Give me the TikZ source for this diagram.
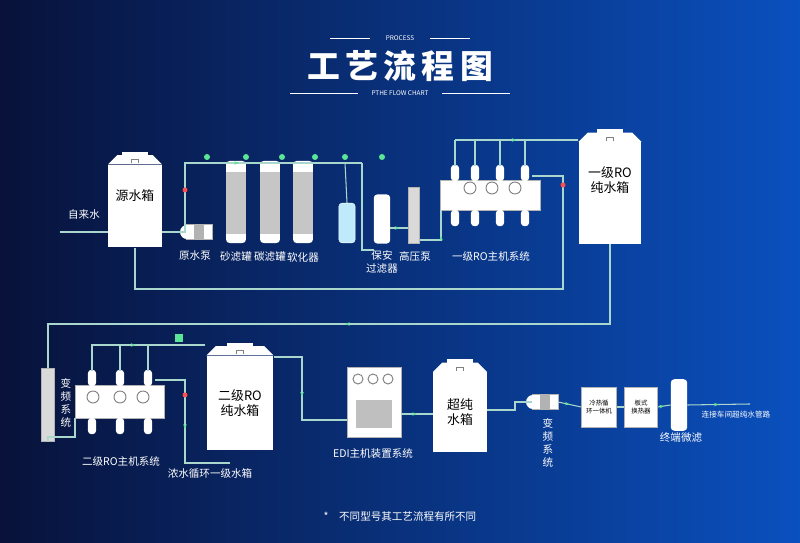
\documentclass[tikz,border=0pt]{standalone}
\usepackage{fontspec}
\setmainfont{Noto Sans CJK SC}
\usetikzlibrary{arrows.meta,decorations.markings}
\definecolor{pipe}{RGB}{170,215,205}
\definecolor{flow}{RGB}{90,230,150}
\definecolor{navy}{RGB}{8,18,58}
\definecolor{bright}{RGB}{10,80,190}
\newcommand\tankroof[1]{%
  \fill[white] (#1.north west) -- ([xshift=8pt,yshift=8pt]#1.north west)
    -- ([xshift=-8pt,yshift=8pt]#1.north east) -- (#1.north east) -- cycle;
  \fill[white] ([xshift=-11pt,yshift=7pt]#1.north) rectangle ([xshift=11pt,yshift=11pt]#1.north);
  \draw[gray,thick] ([xshift=-3pt,yshift=1pt]#1.north) -- ([xshift=-3pt,yshift=4pt]#1.north)
    -- ([xshift=3pt,yshift=4pt]#1.north) -- ([xshift=3pt,yshift=1pt]#1.north);}
\newcommand\pumpbody[1]{%
  \fill[white] ([xshift=1pt]#1.west) circle (6pt);
  \fill[gray!60] ([xshift=-4pt]#1.north) rectangle ([xshift=4pt]#1.south);}
\begin{document}
\begin{tikzpicture}[x=0.03cm,y=-0.03cm,>=Stealth,
  tank/.style={fill=white,inner sep=0pt,font=\fontsize{11}{13}\selectfont,align=center},
  box/.style={fill=white,draw=gray!60,inner sep=0pt},
  vessel/.style={fill=white,rounded corners=3pt,inner sep=0pt},
  lbl/.style={white,font=\fontsize{9}{11}\selectfont,align=center},
  tiny/.style={font=\fontsize{5.5}{7}\selectfont,align=center,inner sep=0pt},
  pipeline/.style={pipe,line width=0.9pt,postaction={decorate},
    decoration={markings,mark=at position 0.5 with {\arrow[flow]{Stealth[length=4pt]}}}},
  plain/.style={pipe,line width=0.9pt}]
% background
\shade[left color=navy,right color=bright] (0,0) rectangle (800,543);
\useasboundingbox (0,0) rectangle (800,543);
% title
\node[white,font=\itshape\fontsize{5.5}{6}\selectfont] (proc) at (400,38) {PROCESS};
\node[white,font=\bfseries\fontsize{28}{30}\selectfont] (title) at (400,66) {工\,艺\,流\,程\,图};
\node[white,font=\itshape\fontsize{5.5}{6}\selectfont] (sub) at (400,93) {PTHE FLOW CHART};
\draw[white] (330,38) -- (370,38) (430,38) -- (470,38) (290,93) -- (358,93) (442,93) -- (510,93);
%%% FIRST ROW
\node[tank,minimum width=54pt*0.85,minimum height=83pt*0.85] (src) at (135,206) {源水箱\\[6pt]};
\tankroof{src}
\node[lbl] (tap) at (84,214) {自来水};
\node[box,minimum width=22pt,minimum height=13pt] (rawp) at (199,232) {};
\pumpbody{rawp}
\node[lbl] (rawpl) at (195,256) {原水泵};
\foreach \x/\n/\t in {236/sand/砂滤罐,270/carb/碳滤罐,303/soft/软化器}{
  \node[vessel,minimum width=17pt,minimum height=70pt] (\n) at (\x,202) {};
  \fill[gray!45] ([yshift=-10pt]\n.north west) rectangle ([yshift=8pt]\n.south east);
  \node[lbl] (\n l) at (\x,257) {\t};}
\node[vessel,fill=cyan!25,draw=white,minimum width=14pt,minimum height=34pt] (dose) at (347,223) {};
\node[vessel,minimum width=14pt,minimum height=42pt] (sec) at (382,219) {};
\node[lbl] (secl) at (382,262) {保安\\过滤器};
\node[box,fill=gray!30,minimum width=9pt,minimum height=48pt] (hpp) at (414,215) {};
\node[lbl] (hppl) at (415,256) {高压泵};
\node[box,minimum width=85pt,minimum height=26pt] (ro1) at (490,195) {};
\foreach \x in {455,475,500,525}{
  \node[vessel,minimum width=7pt,minimum height=14pt] at (\x,173) {};
  \node[vessel,minimum width=7pt,minimum height=14pt] at (\x,218) {};}
\foreach \x in {470,492,515}{\draw[gray,thick] (\x,188) circle (6);}
\node[lbl] (ro1l) at (491,256) {一级RO主机系统};
\node[tank,minimum width=63pt*0.85,minimum height=102pt*0.85] (tk1) at (610,193) {一级RO\\纯水箱\\[10pt]};
\tankroof{tk1}
% first-row pipes
\draw[plain] (60,232) -- (src.west |- 0,232);
\draw[plain] (src.east |- 0,232) -- (rawp.west);
\draw[pipeline] (185,232) -- (185,163) -- (362,163);
\draw[plain] (362,163) -- (362,250) -- (sec.west |- 0,250) ;
\draw[plain] (345,163) -- (dose.north);
\draw[pipeline] (sec.east |- 0,228) -- (hpp.west |- 0,228);
\draw[pipeline] (hpp.east |- 0,240) -- (441,240) -- (441,210);
\draw[pipeline] (455,140) -- (578,140);
\draw[plain] (455,140) -- (455,166) (475,140) -- (475,166) (500,140) -- (500,166) (525,140) -- (525,166);
\draw[plain] (src.south |- 0,248) -- (135,289) -- (563,289) -- (563,176) -- (532,176);
\draw[pipeline] (tk1.south) -- (610,324) -- (48,324) -- (48,372);
\foreach \p in {(185,190),(563,185)}{\fill[red!70] \p circle (2.5);}
\foreach \x in {207,246,282,315,345,382}{\fill[flow] (\x,157) circle (3);}
%%% SECOND ROW
\node[box,fill=gray!30,minimum width=11pt,minimum height=62pt] (vfp) at (48,405) {};
\node[lbl,text width=10pt] (vfpl) at (66,403) {变\\频\\系\\统};
\node[box,minimum width=76pt,minimum height=28pt] (ro2) at (120,402) {};
\foreach \x in {92,120,148}{
  \node[vessel,minimum width=7pt,minimum height=14pt] at (\x,378) {};
  \node[vessel,minimum width=7pt,minimum height=14pt] at (\x,426) {};}
\foreach \x in {93,120,143}{\draw[gray,thick] (\x,397) circle (6);}
\node[lbl] (ro2l) at (121,461) {二级RO主机系统};
\node[tank,minimum width=67pt*0.85,minimum height=95pt*0.85] (tk2) at (240,403) {二级RO\\纯水箱};
\tankroof{tk2}
\node[lbl] (concl) at (210,474) {浓水循环一级水箱};
\node[box,minimum width=46pt,minimum height=60pt] (edi) at (374,402) {};
\foreach \x in {358,373,388}{\draw[gray,thick] (\x,379) circle (5);}
\fill[gray!50] (356,400) rectangle (392,428);
\node[lbl] (edil) at (373,454) {EDI主机装置系统};
\node[tank,minimum width=54pt*0.85,minimum height=80pt*0.85] (tk3) at (460,412) {超纯\\水箱};
\tankroof{tk3}
\node[box,minimum width=22pt,minimum height=13pt] (vfp2) at (545,402) {};
\pumpbody{vfp2}
\node[lbl,text width=10pt] (vfp2l) at (548,443) {变\\频\\系\\统};
\node[box,minimum width=30pt,minimum height=34pt,tiny] (chill) at (599,407) {冷热循\\环一体机};
\node[box,minimum width=28pt,minimum height=34pt,tiny] (plate) at (641,407) {板式\\换热器};
\node[vessel,minimum width=14pt,minimum height=44pt] (term) at (679,405) {};
\node[lbl] (terml) at (681,438) {终端微滤};
\node[lbl,font=\fontsize{6.5}{8}\selectfont] (outl) at (736,415) {连接车间超纯水管路};
% second-row pipes
\draw[plain] (vfp.south) |- (75,437) -- (75,418);
\draw[pipeline] (92,371) -- (92,345) -- (205,345);
\draw[plain] (120,371) -- (120,345) (148,371) -- (148,345);
\draw[pipeline] (155,380) -- (185,380) -- (185,463) -- (230,463);
\draw[pipeline] (tk2.east |- 0,357) -- (302,357) -- (302,420) -- (edi.west |- 0,420);
\draw[pipeline] (edi.east |- 0,414) -- (tk3.west |- 0,414);
\draw[plain] (tk3.east |- 0,410) -- (515,410) -- (515,402) -- (vfp2.west);
\draw[pipeline] (vfp2.east) -- (chill.west);
\draw[plain] (chill.east) -- (plate.west);
\draw[pipeline] (plate.east) -- (term.west);
\draw[pipeline] (term.east) -- (750,404);
\fill[red!70] (185,395) circle (2.5);
\fill[flow] (175,334) rectangle (183,342);
% footer
\node[white,font=\fontsize{9}{11}\selectfont] (note) at (400,517) {*\quad 不同型号其工艺流程有所不同};
\end{tikzpicture}
\end{document}
